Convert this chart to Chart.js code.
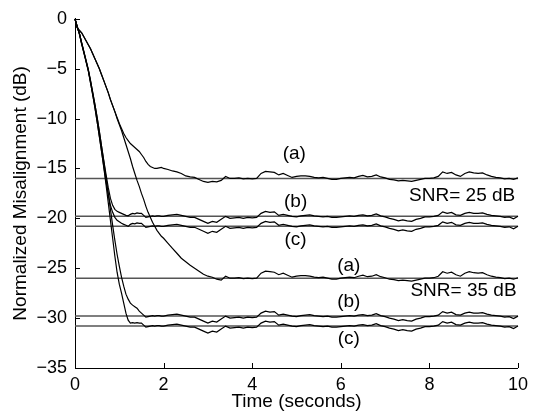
<!DOCTYPE html>
<html>
<head>
<meta charset="utf-8">
<script src="https://cdn.jsdelivr.net/npm/chart.js@4.4.1/dist/chart.umd.min.js"></script>
<style>
  html, body { margin: 0; padding: 0; background: #fff; }
  #wrap { width: 534px; height: 416px; position: relative; }
</style>
</head>
<body>
<div id="wrap"><canvas id="c" width="534" height="416"></canvas></div>
<script>
// ---- data ----
const time = [
  0, 0.05, 0.1, 0.15, 0.2, 0.25, 0.3, 0.35, 0.4, 0.45,
  0.5, 0.55, 0.6, 0.65, 0.7, 0.75, 0.8, 0.85, 0.9, 0.95,
  1.0, 1.05, 1.1, 1.15, 1.2, 1.25, 1.3, 1.35, 1.4, 1.45,
  1.5, 1.55, 1.6, 1.65, 1.7, 1.75, 1.8, 1.85, 1.9, 1.95,
  2.0,
  2.1, 2.2, 2.3, 2.4, 2.5, 2.6, 2.7, 2.8, 2.9, 3.0,
  3.1, 3.2, 3.3, 3.4, 3.5, 3.6, 3.7, 3.8, 3.9, 4.0,
  4.1, 4.2, 4.3, 4.4, 4.5, 4.6, 4.7, 4.8, 4.9, 5.0,
  5.1, 5.2, 5.3, 5.4, 5.5, 5.6, 5.7, 5.8, 5.9, 6.0,
  6.1, 6.2, 6.3, 6.4, 6.5, 6.6, 6.7, 6.8, 6.9, 7.0,
  7.1, 7.2, 7.3, 7.4, 7.5, 7.6, 7.7, 7.8, 7.9, 8.0,
  8.1, 8.2, 8.3, 8.4, 8.5, 8.6, 8.7, 8.8, 8.9, 9.0,
  9.1, 9.2, 9.3, 9.4, 9.5, 9.6, 9.7, 9.8, 9.9, 10.0
];

// SNR = 25 dB
const snr25a = [
  0, -0.9, -1.15, -1.4, -1.8, -2.2, -2.6, -3.0, -3.5, -4.0,
  -4.5, -5.0, -5.6, -6.2, -6.8, -7.4, -8.1, -8.7, -9.3, -9.9,
  -10.5, -11.0, -11.5, -11.9, -12.2, -12.5, -12.7, -12.9, -13.1, -13.3,
  -13.6, -13.9, -14.3, -14.6, -14.8, -14.9, -15.0, -15.0, -14.95, -14.9,
  -15.0,
  -15.1, -15.25, -15.35, -15.5, -15.75, -15.85, -15.9, -16.1, -16.3, -16.4,
  -16.3, -16.35, -16.2, -15.8, -16.0, -16.0, -15.95, -16.05, -16.0, -16.05,
  -16.0, -15.5, -15.3, -15.35, -15.4, -15.65, -15.5, -15.7, -15.9, -15.8,
  -15.75, -15.75, -15.8, -15.9, -15.95, -15.9, -16.0, -16.1, -16.1, -16.0,
  -15.95, -15.9, -15.95, -15.8, -15.7, -15.85, -15.8, -15.65, -15.85, -15.95,
  -16.1, -16.15, -16.25, -16.2, -16.25, -16.3, -16.2, -16.1, -16.0, -16.0,
  -15.95, -15.8, -15.35, -15.5, -15.4, -15.65, -15.8, -15.5, -15.35, -15.45,
  -15.5, -15.45, -15.65, -15.8, -15.9, -15.95, -16.05, -16.0, -16.1, -15.95
];
const snr25b = [
  0, -0.8, -1.5, -2.4, -3.3, -4.2, -5.1, -6.2, -7.4, -8.6,
  -9.9, -11.3, -12.8, -14.2, -15.6, -16.9, -18.0, -18.7, -19.1, -19.3,
  -19.4, -19.5, -19.6, -19.7, -19.75, -19.6, -19.5, -19.55, -19.45, -19.5,
  -19.5, -19.7, -19.9, -19.85, -19.8, -19.75, -19.8, -19.75, -19.75, -19.8,
  -19.8,
  -19.7, -19.65, -19.6, -19.7, -19.8, -19.9, -19.9, -20.1, -20.3, -20.5,
  -20.3, -20.4, -20.1, -19.8, -20.0, -19.95, -19.9, -20.0, -19.9, -19.95,
  -19.9, -19.5, -19.3, -19.4, -19.35, -19.7, -19.6, -19.7, -19.8, -19.85,
  -19.75, -19.7, -19.65, -19.75, -19.8, -19.85, -19.8, -19.9, -19.9, -19.85,
  -19.8, -19.75, -19.8, -19.7, -19.65, -19.75, -19.7, -19.55, -19.75, -19.85,
  -20.0, -20.1, -20.25, -20.15, -20.25, -20.3, -20.1, -20.0, -19.85, -19.85,
  -19.8, -19.7, -19.35, -19.5, -19.4, -19.65, -19.7, -19.5, -19.4, -19.5,
  -19.5, -19.45, -19.6, -19.7, -19.75, -19.8, -19.9, -19.85, -20.05, -19.8
];
const snr25c = [
  0, -0.8, -1.5, -2.5, -3.4, -4.3, -5.2, -6.4, -7.6, -8.9,
  -10.3, -11.8, -13.3, -14.8, -16.3, -17.6, -18.7, -19.4, -19.9, -20.2,
  -20.35, -20.5, -20.6, -20.7, -20.8, -20.6, -20.5, -20.55, -20.45, -20.5,
  -20.5, -20.7, -20.9, -20.85, -20.8, -20.75, -20.8, -20.75, -20.75, -20.8,
  -20.8,
  -20.7, -20.65, -20.6, -20.7, -20.8, -20.9, -20.9, -21.1, -21.3, -21.5,
  -21.3, -21.4, -21.1, -20.8, -21.0, -20.95, -20.9, -21.0, -20.9, -20.95,
  -20.9, -20.5, -20.3, -20.4, -20.35, -20.7, -20.6, -20.7, -20.8, -20.85,
  -20.75, -20.7, -20.65, -20.75, -20.8, -20.85, -20.8, -20.9, -20.9, -20.85,
  -20.8, -20.75, -20.8, -20.7, -20.65, -20.75, -20.7, -20.55, -20.75, -20.85,
  -21.0, -21.1, -21.25, -21.15, -21.25, -21.3, -21.1, -21.0, -20.85, -20.85,
  -20.8, -20.7, -20.35, -20.5, -20.4, -20.65, -20.7, -20.5, -20.4, -20.5,
  -20.5, -20.45, -20.6, -20.7, -20.75, -20.8, -20.9, -20.85, -21.05, -20.8
];

// SNR = 35 dB
const snr35a = [
  0, -0.9, -1.15, -1.4, -1.8, -2.2, -2.6, -3.0, -3.5, -4.0,
  -4.5, -5.0, -5.6, -6.2, -6.8, -7.4, -8.1, -8.7, -9.3, -10.0,
  -10.6, -11.2, -11.9, -12.6, -13.3, -14.0, -14.8, -15.5, -16.2, -16.8,
  -17.5, -18.1, -18.8, -19.4, -19.9, -20.4, -20.8, -21.2, -21.5, -21.8,
  -22.0,
  -22.5, -23.0, -23.5, -24.0, -24.35, -24.7, -25.0, -25.3, -25.6, -25.8,
  -25.9, -26.1, -26.2, -25.8, -26.0, -26.0, -25.95, -26.05, -26.0, -26.05,
  -26.0, -25.5, -25.3, -25.35, -25.4, -25.65, -25.5, -25.7, -25.9, -25.8,
  -25.75, -25.75, -25.8, -25.9, -25.95, -25.9, -26.0, -26.1, -26.1, -26.0,
  -25.95, -25.9, -25.95, -25.8, -25.7, -25.85, -25.8, -25.65, -25.85, -25.95,
  -26.1, -26.15, -26.25, -26.2, -26.25, -26.3, -26.2, -26.1, -26.0, -26.0,
  -25.95, -25.8, -25.35, -25.5, -25.4, -25.65, -25.8, -25.5, -25.35, -25.45,
  -25.5, -25.45, -25.65, -25.8, -25.9, -25.95, -26.05, -26.0, -26.1, -25.95
];
const snr35b = [
  0, -0.8, -1.5, -2.4, -3.3, -4.2, -5.1, -6.2, -7.4, -8.6,
  -9.9, -11.3, -12.8, -14.3, -15.9, -17.5, -19.1, -20.7, -22.2, -23.6,
  -24.8, -25.9, -26.8, -27.6, -28.1, -28.5, -28.7, -28.85, -29.0, -29.3,
  -29.5, -29.7, -29.9, -29.85, -29.8, -29.75, -29.8, -29.75, -29.75, -29.8,
  -29.8,
  -29.7, -29.65, -29.6, -29.7, -29.8, -29.9, -29.9, -30.1, -30.3, -30.5,
  -30.3, -30.4, -30.1, -29.8, -30.0, -29.95, -29.9, -30.0, -29.9, -29.95,
  -29.9, -29.5, -29.3, -29.4, -29.35, -29.7, -29.6, -29.7, -29.8, -29.85,
  -29.75, -29.7, -29.65, -29.75, -29.8, -29.85, -29.8, -29.9, -29.9, -29.85,
  -29.8, -29.75, -29.8, -29.7, -29.65, -29.75, -29.7, -29.55, -29.75, -29.85,
  -30.0, -30.1, -30.25, -30.15, -30.25, -30.3, -30.1, -30.0, -29.85, -29.85,
  -29.8, -29.7, -29.35, -29.5, -29.4, -29.65, -29.7, -29.5, -29.4, -29.5,
  -29.5, -29.45, -29.6, -29.7, -29.75, -29.8, -29.9, -29.85, -30.05, -29.8
];
const snr35c = [
  0, -0.8, -1.5, -2.5, -3.4, -4.3, -5.2, -6.4, -7.6, -8.9,
  -10.3, -11.8, -13.3, -14.9, -16.6, -18.4, -20.2, -22.0, -23.8, -25.4,
  -26.6, -27.5, -28.5, -29.5, -30.2, -30.5, -30.45, -30.5, -30.45, -30.5,
  -30.5, -30.7, -30.9, -30.85, -30.8, -30.75, -30.8, -30.75, -30.75, -30.8,
  -30.8,
  -30.7, -30.65, -30.6, -30.7, -30.8, -30.9, -30.9, -31.1, -31.3, -31.5,
  -31.3, -31.4, -31.1, -30.8, -31.0, -30.95, -30.9, -31.0, -30.9, -30.95,
  -30.9, -30.5, -30.3, -30.4, -30.35, -30.7, -30.6, -30.7, -30.8, -30.85,
  -30.75, -30.7, -30.65, -30.75, -30.8, -30.85, -30.8, -30.9, -30.9, -30.85,
  -30.8, -30.75, -30.8, -30.7, -30.65, -30.75, -30.7, -30.55, -30.75, -30.85,
  -31.0, -31.1, -31.25, -31.15, -31.25, -31.3, -31.1, -31.0, -30.85, -30.85,
  -30.8, -30.7, -30.35, -30.5, -30.4, -30.65, -30.7, -30.5, -30.4, -30.5,
  -30.5, -30.45, -30.6, -30.7, -30.75, -30.8, -30.9, -30.85, -31.05, -30.8
];

// theoretical steady-state levels (horizontal reference lines)
const steadyLevels = [-16, -19.8, -20.8, -26, -29.8, -30.8];
const lineSpan = [0, 10];

// tick values
const xTicks = [0, 2, 4, 6, 8, 10];
const yTicks = [-35, -30, -25, -20, -15, -10, -5, 0];

// text annotations (label and anchor in data units)
const noteText = ['(a)', '(b)', '(c)', 'SNR= 25 dB', '(a)', '(b)', '(c)', 'SNR= 35 dB'];
const noteX    = [4.95, 4.98, 4.98, 8.74, 6.18, 6.18, 6.18, 8.77];
const noteY    = [-13.5, -18.35, -22.1, -17.7, -24.75, -28.4, -32.05, -27.3];

// ---- chart ----
const FONT = "'Liberation Sans', Arial, Helvetica, sans-serif";
Chart.defaults.font.family = FONT;
Chart.defaults.color = '#000';

function curve(vals) {
  return {
    data: time.map((t, i) => ({ x: t, y: vals[i] })),
    borderColor: '#000', borderWidth: 1.2, pointRadius: 0, tension: 0,
    fill: false, order: 0, clip: 4
  };
}
function level(v) {
  return {
    data: lineSpan.map(t => ({ x: t, y: v })),
    borderColor: 'rgb(85,85,85)', borderWidth: 1.5, pointRadius: 0,
    fill: false, order: 1
  };
}

const datasets = [
  ...steadyLevels.map(level),
  curve(snr25a), curve(snr25b), curve(snr25c),
  curve(snr35a), curve(snr35b), curve(snr35c)
];

const minusFmt = v => (v < 0 ? '\u2212' + Math.abs(v) : String(v));

const extras = {
  id: 'extras',
  afterDraw(chart) {
    const { ctx, chartArea: a, scales: { x, y } } = chart;
    ctx.save();
    // inward tick marks
    ctx.strokeStyle = '#000';
    ctx.lineWidth = 1;
    ctx.beginPath();
    xTicks.forEach(v => {
      const px = Math.round(x.getPixelForValue(v)) + 0.5;
      ctx.moveTo(px, a.bottom); ctx.lineTo(px, a.bottom - 5);
    });
    yTicks.forEach(v => {
      const py = Math.round(y.getPixelForValue(v)) + 0.5;
      ctx.moveTo(a.left, py); ctx.lineTo(a.left + 5, py);
    });
    ctx.stroke();
    // annotations
    ctx.fillStyle = '#000';
    ctx.font = '19px ' + FONT;
    ctx.textAlign = 'center';
    ctx.textBaseline = 'middle';
    noteText.forEach((txt, i) => {
      ctx.fillText(txt, x.getPixelForValue(noteX[i]), y.getPixelForValue(noteY[i]));
    });
    ctx.restore();
  }
};

new Chart(document.getElementById('c'), {
  type: 'line',
  data: { datasets },
  options: {
    responsive: false,
    animation: false,
    events: [],
    layout: { padding: { left: 0, right: 11, top: 16, bottom: 0 } },
    plugins: { legend: { display: false }, tooltip: { enabled: false } },
    scales: {
      x: {
        type: 'linear', min: 0, max: 10,
        afterBuildTicks: s => { s.ticks = xTicks.map(v => ({ value: v })); },
        afterFit: s => { s.height = 48; },
        grid: { display: false, drawTicks: false },
        border: { display: true, color: '#000', width: 1 },
        ticks: { font: { size: 18 }, padding: 6, maxRotation: 0, color: '#000' },
        title: { display: true, text: 'Time (seconds)', font: { size: 19 }, padding: { top: 0, bottom: 3 }, color: '#000' }
      },
      y: {
        type: 'linear', min: -35, max: 0,
        afterBuildTicks: s => { s.ticks = yTicks.map(v => ({ value: v })); },
        afterFit: s => { s.width = 75; },
        grid: { display: false, drawTicks: false },
        border: { display: true, color: '#000', width: 1 },
        ticks: { font: { size: 18 }, padding: 8, color: '#000', callback: minusFmt },
        title: { display: true, text: 'Normalized Misalignment (dB)', font: { size: 19 }, padding: { top: 9, bottom: 0 }, color: '#000' }
      }
    }
  },
  plugins: [extras]
});
</script>
</body>
</html>
